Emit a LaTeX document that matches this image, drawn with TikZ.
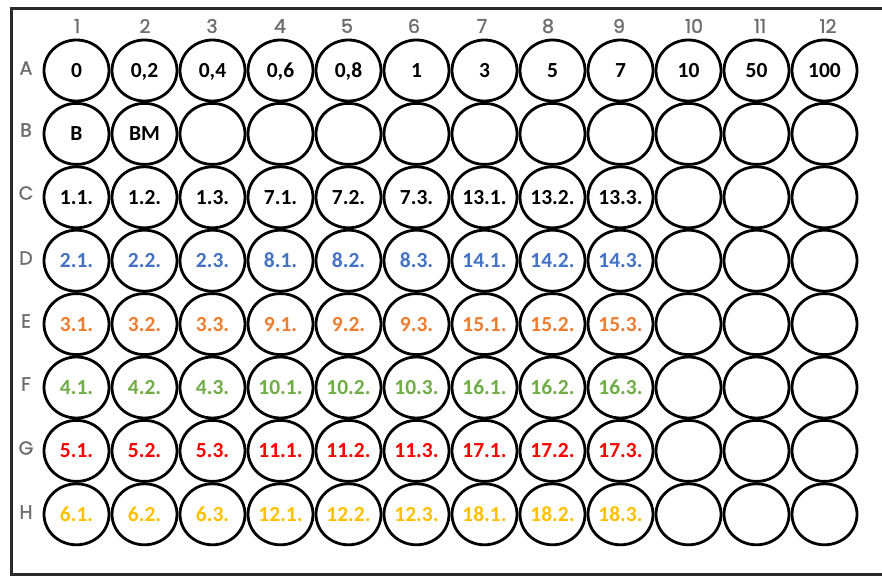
\documentclass[tikz,border=0pt]{standalone}
\usepackage{fontspec}
\setmainfont{Carlito}
\newfontfamily\axisfont[FakeBold=1.5]{Poppins}
\usetikzlibrary{shapes.geometric}
\definecolor{cblue}{HTML}{4472C4}
\definecolor{corange}{HTML}{ED7D31}
\definecolor{cgreen}{HTML}{70AD47}
\definecolor{cred}{HTML}{FF0000}
\definecolor{cgold}{HTML}{FFC000}
\definecolor{axisgray}{HTML}{6E6E6E}
\definecolor{framegray}{HTML}{2A2A2A}
\begin{document}
\begin{tikzpicture}[x=1pt,y=-1pt,
  well/.style={ellipse, draw=black, line width=2.8pt, minimum width=65pt, minimum height=61pt, inner sep=0pt,
    text height=14pt, text depth=0pt, font=\bfseries\fontsize{21.5}{22}\selectfont},
  axislabel/.style={font=\axisfont\fontsize{19}{19}\selectfont, text=axisgray, inner sep=0pt},
  frameline/.style={draw=framegray, line width=3pt}]
\useasboundingbox (0,0) rectangle (882,577);
% frame
\coordinate (TL) at (11,9);
\coordinate (TR) at (884,9);
\coordinate (BL) at (11,574);
\coordinate (BR) at (884,574);
\draw[frameline] (TR) -- (TL) -- (BL) -- (BR);
% column labels
\foreach \x [count=\c] in {77,145,212,280,347,414,482,548,619,694,760,828}
  \node[axislabel] (col\c) at (\x,26) {\c};
% row labels
\foreach \r/\y in {A/68,B/130,C/193,D/258,E/321,F/384,G/448,H/512}
  \node[axislabel] (row\r) at (26,\y) {\r};
% row A
\foreach \lab [count=\c] in {0,{0,2},{0,4},{0,6},{0,8},1,3,5,7,10,50,100}
  \node[well] (A\c) at ({76.5+68*(\c-1)},70.5) {\lab};
% row B
\foreach \lab [count=\c] in {B,BM,{},{},{},{},{},{},{},{},{},{}}
  \node[well] (B\c) at ({76.5+68*(\c-1)},133.9) {\lab};
% rows C-H
\foreach \r/\col [count=\i] in {C/black,D/cblue,E/corange,F/cgreen,G/cred,H/cgold}{
  \pgfmathsetmacro{\yy}{70.5+63.4*(\i+1)}
  \pgfmathtruncatemacro{\na}{\i}
  \pgfmathtruncatemacro{\nb}{\i+6}
  \pgfmathtruncatemacro{\nc}{\i+12}
  \foreach \c/\lab in {1/\na.1.,2/\na.2.,3/\na.3.,4/\nb.1.,5/\nb.2.,6/\nb.3.,7/\nc.1.,8/\nc.2.,9/\nc.3.,10/{},11/{},12/{}}
    \node[well, text=\col] (\r\c) at ({76.5+68*(\c-1)},\yy) {\lab};
}
\end{tikzpicture}
\end{document}
